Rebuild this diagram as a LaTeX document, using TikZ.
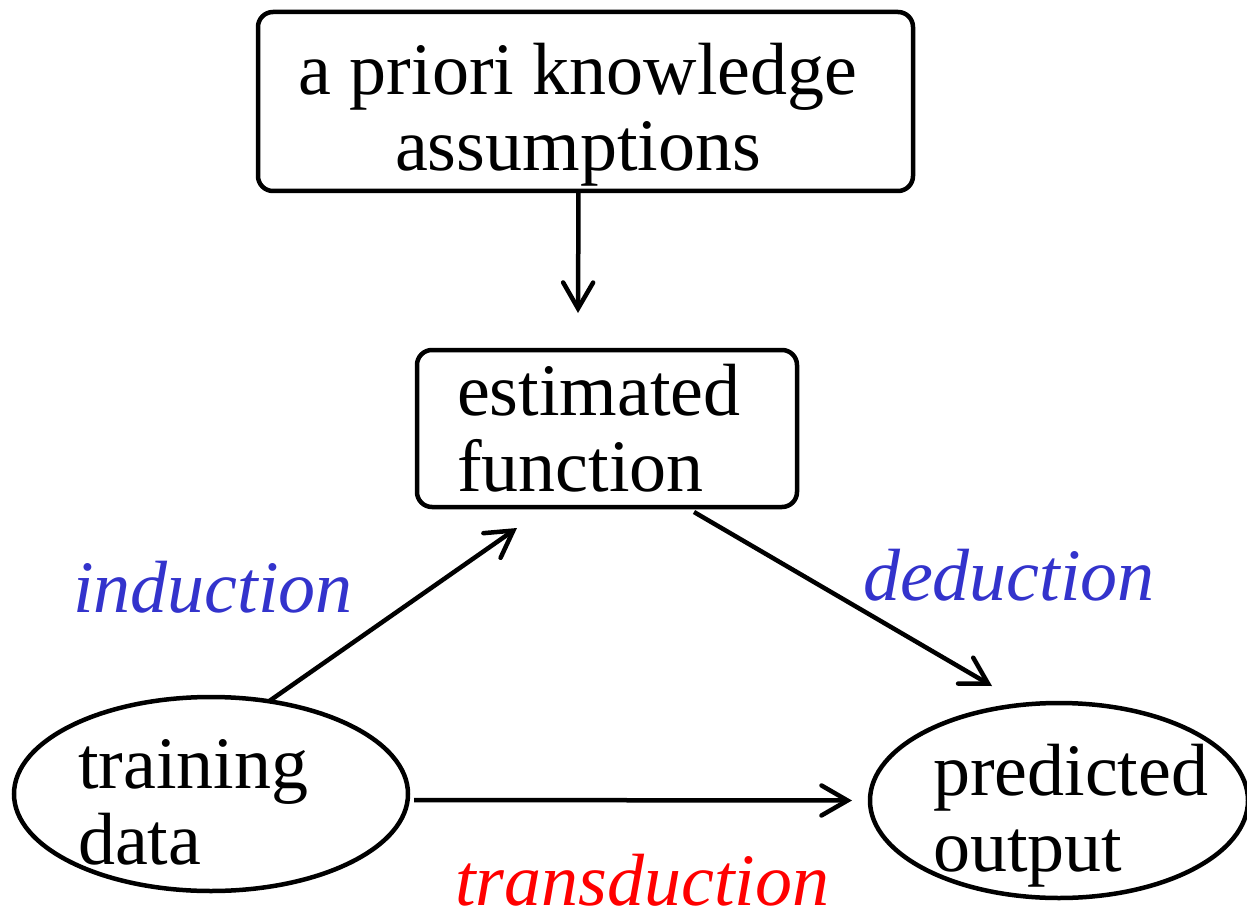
\documentclass[tikz,border=0pt]{standalone}
\usepackage{fontspec}
\setmainfont{Liberation Serif}
\usetikzlibrary{arrows.meta,shapes.geometric,calc}
\definecolor{lblblue}{RGB}{51,51,204}
\definecolor{lblred}{RGB}{255,0,0}
\newcommand\mytwolines[2]{\begin{tabular}[t]{@{}l@{}}#1\\#2\end{tabular}}
\newcommand\mytwolinesc[2]{\begin{tabular}[t]{@{}c@{}}#1\\#2\end{tabular}}
\begin{document}
\begin{tikzpicture}[x=1pt,y=-1pt,
  every node/.style={inner sep=0pt,outer sep=0pt},
  shapebox/.style={draw,line width=4.5pt,rounded corners=15pt,rectangle},
  shapeell/.style={draw,line width=4.5pt,ellipse},
  txt/.style={font=\fontsize{74}{76}\selectfont,anchor=base west,text=black},
  lbl/.style={font=\fontsize{74}{76}\selectfont\itshape,anchor=base west},
  conn/.style={line width=4.5pt,-{Straight Barb[length=26pt,width=30pt,line cap=round]}}
]
\useasboundingbox (0,0) rectangle (1247,909);
% shapes
\node[shapebox,minimum width=655pt,minimum height=179pt] (prior) at (585.5,101.5) {};
\node[shapebox,minimum width=380pt,minimum height=157pt] (est) at (607,428.5) {};
\node[shapeell,minimum width=394pt,minimum height=194pt] (train) at (211,794) {};
\node[shapeell,minimum width=378pt,minimum height=195pt] (pred) at (1059,800.5) {};
% texts
\node[txt,anchor=base] (priortxt) at (578,95) {\mytwolinesc{a priori knowledge}{assumptions}};
\node[txt] (esttxt) at (457,415) {\mytwolines{estimated}{function}};
\node[txt] (traintxt) at (78,788) {\mytwolines{training}{data}};
\node[txt] (predtxt) at (933,795) {\mytwolines{predicted}{output}};
% labels
\node[lbl,text=lblblue] (ind) at (73,612) {induction};
\node[lbl,text=lblblue] (ded) at (863,600) {deduction};
\node[lbl,text=lblred] (trans) at (455,905) {transduction};
% connectors
\draw[conn] ([shift={(-7,0)}]prior.south) -- ([shift={(-29,-37)}]est.north);
\draw[conn] (train.58) -- ([shift={(100,21)}]est.south west);
\draw[conn] ([shift={(277,5)}]est.south west) -- ([shift={(-67,-17)}]pred.north);
\draw[conn] ([shift={(6,6)}]train.east) -- ([shift={(-18,0)}]pred.west);
\end{tikzpicture}
\end{document}
